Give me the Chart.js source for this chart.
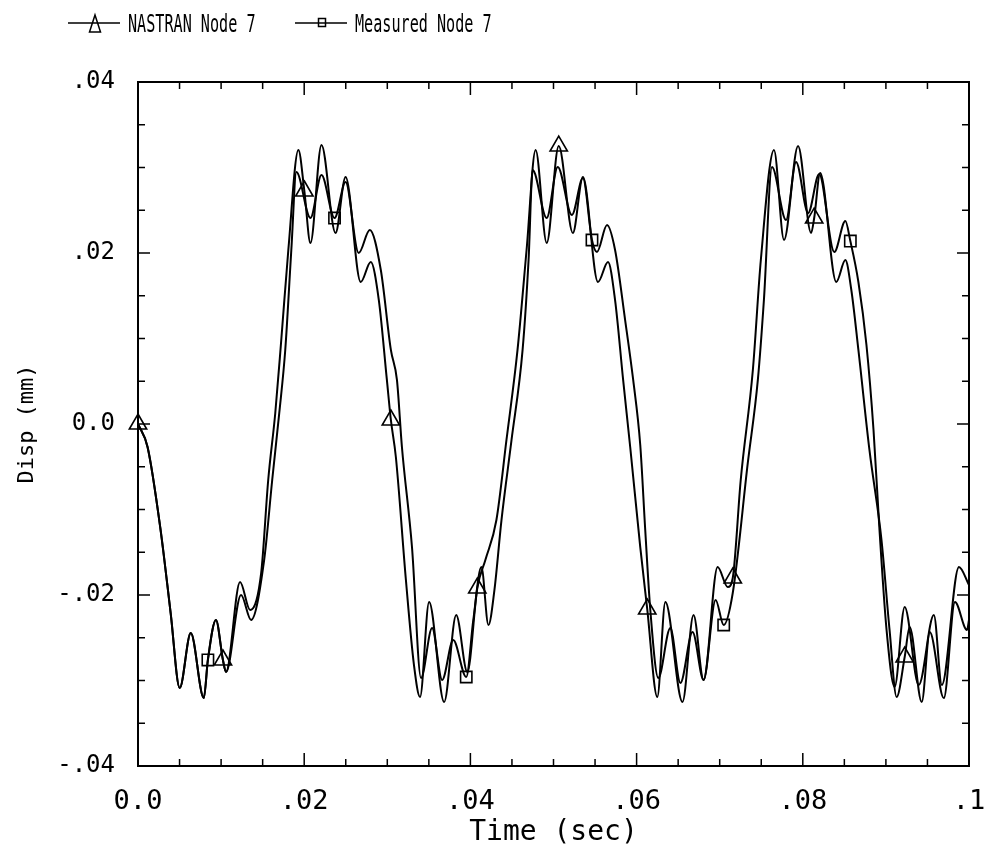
<!DOCTYPE html>
<html>
<head>
<meta charset="utf-8">
<script src="https://cdn.jsdelivr.net/npm/chart.js@4.4.0/dist/chart.umd.min.js"></script>
<style>
  html, body { margin: 0; padding: 0; background: #fff; }
</style>
</head>
<body>
<canvas id="chart" width="987" height="859"></canvas>
<script>
// ---- data: time (sec) vs displacement (mm) ----
const nastranTime = [
  0, 0.00115, 0.00272, 0.00393, 0.00502, 0.00635, 0.00792, 0.00841, 0.00938, 0.01022,
  0.01059, 0.01228, 0.01349, 0.01482, 0.01567, 0.01652, 0.01724, 0.01809, 0.01930, 0.02002,
  0.02075, 0.02208, 0.02377, 0.02498, 0.02680, 0.02801, 0.02898, 0.02995, 0.03043, 0.03103,
  0.03224, 0.03321, 0.03394, 0.03503, 0.03684, 0.03829, 0.03963, 0.04083, 0.04180, 0.04313,
  0.04434, 0.04567, 0.04676, 0.04785, 0.04918, 0.05063, 0.05233, 0.05354, 0.05535, 0.05656,
  0.05741, 0.05838, 0.05923, 0.06044, 0.06128, 0.06249, 0.06346, 0.06552, 0.06685, 0.06806,
  0.06975, 0.07096, 0.07157, 0.07253, 0.07399, 0.07495, 0.07653, 0.07774, 0.07943, 0.08100,
  0.08137, 0.08209, 0.08403, 0.08512, 0.08584, 0.08669, 0.08802, 0.08947, 0.09044, 0.09129,
  0.09226, 0.09286, 0.09431, 0.09528, 0.09697, 0.09831, 0.09976, 0.1
];
const nastranDisp = [
  0, -0.00269, -0.01240, -0.02211, -0.03088, -0.02444, -0.03205, -0.02760, -0.02292, -0.02760,
  -0.02901, -0.01848, -0.02175, -0.01743, -0.00655, 0.00129, 0.00982, 0.02035, 0.03205, 0.02725,
  0.02117, 0.03263, 0.02234, 0.02889, 0.01661, 0.01895, 0.01450, 0.00515, 0.00047, -0.00386,
  -0.01825, -0.02819, -0.03193, -0.02082, -0.03251, -0.02234, -0.02901, -0.01918, -0.01591, -0.01123,
  -0.00187, 0.00866, 0.02035, 0.03205, 0.02117, 0.03251, 0.02234, 0.02889, 0.01661, 0.01895,
  0.01450, 0.00515, -0.00269, -0.01439, -0.02164, -0.03193, -0.02082, -0.03251, -0.02234, -0.02994,
  -0.01673, -0.01906, -0.01801, -0.00655, 0.00632, 0.01918, 0.03205, 0.02152, 0.03251, 0.02234,
  0.02409, 0.02936, 0.01661, 0.01918, 0.01567, 0.00866, -0.00304, -0.01357, -0.02409, -0.03193,
  -0.02725, -0.02374, -0.03251, -0.02433, -0.03205, -0.02082, -0.02409, -0.02292
];
const nastranMarks = [0, 9, 19, 28, 37, 45, 54, 62, 70, 80];   // triangles

const measuredTime = [
  0, 0.00115, 0.00272, 0.00393, 0.00502, 0.00635, 0.00792, 0.00841, 0.00938, 0.01022,
  0.01059, 0.01240, 0.01361, 0.01518, 0.01615, 0.01700, 0.01772, 0.01845, 0.01906, 0.02075,
  0.02208, 0.02365, 0.02498, 0.02656, 0.02789, 0.02922, 0.03043, 0.03116, 0.03176, 0.03297,
  0.03406, 0.03539, 0.03660, 0.03793, 0.03950, 0.04035, 0.04132, 0.04217, 0.04289, 0.04374,
  0.04495, 0.04628, 0.04700, 0.04749, 0.04918, 0.05051, 0.05221, 0.05354, 0.05463, 0.05523,
  0.05644, 0.05741, 0.05862, 0.05959, 0.06044, 0.06104, 0.06165, 0.06261, 0.06406, 0.06527,
  0.06673, 0.06806, 0.06951, 0.07048, 0.07157, 0.07338, 0.07459, 0.07532, 0.07629, 0.07798,
  0.07919, 0.08064, 0.08197, 0.08379, 0.08512, 0.08572, 0.08669, 0.08766, 0.08851, 0.08923,
  0.09008, 0.09105, 0.09226, 0.09395, 0.09577, 0.09673, 0.09879, 0.1
];
const measuredDisp = [
  0, -0.00269, -0.01240, -0.02211, -0.03088, -0.02444, -0.03205, -0.02760, -0.02292, -0.02760,
  -0.02901, -0.02000, -0.02292, -0.01591, -0.00655, 0.00129, 0.00866, 0.02035, 0.02947, 0.02409,
  0.02912, 0.02409, 0.02830, 0.02000, 0.02269, 0.01801, 0.00866, 0.00515, -0.00269, -0.01439,
  -0.02971, -0.02386, -0.02994, -0.02526, -0.02959, -0.02292, -0.01673, -0.02351, -0.01942, -0.01123,
  -0.00187, 0.00866, 0.01918, 0.02971, 0.02409, 0.03006, 0.02444, 0.02877, 0.02152, 0.02012,
  0.02327, 0.02035, 0.01216, 0.00515, -0.00246, -0.01240, -0.02175, -0.02971, -0.02386, -0.03029,
  -0.02433, -0.02994, -0.02058, -0.02351, -0.01977, -0.00456, 0.00515, 0.01450, 0.03006, 0.02386,
  0.03064, 0.02468, 0.02924, 0.02012, 0.02374, 0.02140, 0.01661, 0.00924, -0.00070, -0.01240,
  -0.02409, -0.03076, -0.02140, -0.03053, -0.02234, -0.03053, -0.01673, -0.01883
];
const measuredMarks = [7, 21, 34, 48, 63, 75];                 // squares

const seriesNames = ["NASTRAN Node 7", "Measured Node 7"];
const xTickLabels = ["0.0", ".02", ".04", ".06", ".08", ".1"];
const yTickLabels = ["-.04", "-.02", "0.0", ".02", ".04"];

const MONO = '"DejaVu Sans Mono", monospace';
const toPts = (ts, ys) => ts.map((t, i) => ({x: t, y: ys[i]}));

/**  ---------------- frame + inward ticks ----------------  **/
const framePlugin = {
  id: "frame",
  afterDraw(chart) {
    const {ctx, chartArea: a, scales: {x, y}} = chart;
    ctx.save();
    ctx.strokeStyle = "#000";
    ctx.lineWidth = 2;
    ctx.strokeRect(a.left, a.top, a.right - a.left, a.bottom - a.top);
    ctx.lineWidth = 1.5;
    ctx.beginPath();
    for (let k = 1; k < 20; k++) {            // x every .005
      const px = x.getPixelForValue(k * 0.005), len = k % 4 === 0 ? 13 : 7;
      ctx.moveTo(px, a.bottom); ctx.lineTo(px, a.bottom - len);
      ctx.moveTo(px, a.top);    ctx.lineTo(px, a.top + len);
    }
    for (let k = -7; k < 8; k++) {            // y every .005
      const py = y.getPixelForValue(k * 0.005), len = k % 4 === 0 ? 12 : 7;
      ctx.moveTo(a.left, py);  ctx.lineTo(a.left + len, py);
      ctx.moveTo(a.right, py); ctx.lineTo(a.right - len, py);
    }
    ctx.stroke();
    ctx.restore();
  }
};

/**  ---------------- legend (condensed, line + marker) ----------------  **/
const legendPlugin = {
  id: "topLegend",
  afterDraw(chart) {
    const ctx = chart.ctx;
    ctx.save();
    ctx.strokeStyle = "#000";
    ctx.fillStyle = "#000";
    ctx.lineWidth = 1.5;
    const items = [
      {x0: 68,  x1: 120, mx: 95,  txt: 128, shape: "tri"},
      {x0: 295, x1: 347, mx: 322, txt: 355, shape: "sq"}
    ];
    items.forEach((it, i) => {
      ctx.beginPath();
      ctx.moveTo(it.x0, 23); ctx.lineTo(it.x1, 23);
      if (it.shape === "tri") {
        ctx.moveTo(it.mx, 15); ctx.lineTo(it.mx + 5.5, 32); ctx.lineTo(it.mx - 5.5, 32); ctx.closePath();
      } else {
        ctx.rect(it.mx - 3.5, 18.5, 7, 8);
      }
      ctx.stroke();
      ctx.save();
      ctx.translate(it.txt, 32);
      ctx.scale(0.605, 1);
      ctx.font = `25px ${MONO}`;
      ctx.textBaseline = "alphabetic";
      ctx.fillText(seriesNames[i], 0, 0);
      ctx.restore();
    });
    ctx.restore();
  }
};

const commonLine = {
  borderColor: "#000", borderWidth: 2,
  pointBorderColor: "#000", pointBackgroundColor: "rgba(0,0,0,0)", pointBorderWidth: 1.6,
  cubicInterpolationMode: "monotone", fill: false, clip: false
};

new Chart(document.getElementById("chart"), {
  type: "line",
  data: {
    datasets: [
      {
        ...commonLine, label: seriesNames[0], data: toPts(nastranTime, nastranDisp),
        pointStyle: "triangle",
        pointRadius: c => nastranMarks.includes(c.dataIndex) ? 10 : 0
      },
      {
        ...commonLine, label: seriesNames[1], data: toPts(measuredTime, measuredDisp),
        pointStyle: "rect",
        pointRadius: c => measuredMarks.includes(c.dataIndex) ? 8 : 0
      }
    ]
  },
  options: {
    responsive: false, animation: false, devicePixelRatio: 1,
    layout: {padding: {left: 0, right: 18, top: 82, bottom: 0}},
    plugins: {legend: {display: false}, tooltip: {enabled: false}},
    scales: {
      x: {
        type: "linear", min: 0, max: 0.1,
        afterFit: s => { s.height = 93; s.paddingLeft = 0; s.paddingRight = 0; },
        grid: {display: false, drawTicks: false},
        border: {display: false},
        ticks: {
          stepSize: 0.02, autoSkip: false, maxRotation: 0, padding: 20, color: "#000",
          font: {family: MONO, size: 27},
          callback: (v, i) => xTickLabels[i]
        },
        title: {display: true, text: "Time (sec)", color: "#000",
                font: {family: MONO, size: 28}, padding: {top: 0, bottom: 9}}
      },
      y: {
        min: -0.04, max: 0.04,
        afterFit: s => { s.width = 138; s.paddingTop = 0; s.paddingBottom = 0; },
        grid: {display: false, drawTicks: false},
        border: {display: false},
        ticks: {
          stepSize: 0.02, autoSkip: false, padding: 23, color: "#000",
          font: {family: MONO, size: 24},
          callback: (v, i) => yTickLabels[i]
        },
        title: {display: true, text: "Disp (mm)", color: "#000",
                font: {family: MONO, size: 22}, padding: {top: 14, bottom: 0}}
      }
    }
  },
  plugins: [framePlugin, legendPlugin]
});
</script>
</body>
</html>
